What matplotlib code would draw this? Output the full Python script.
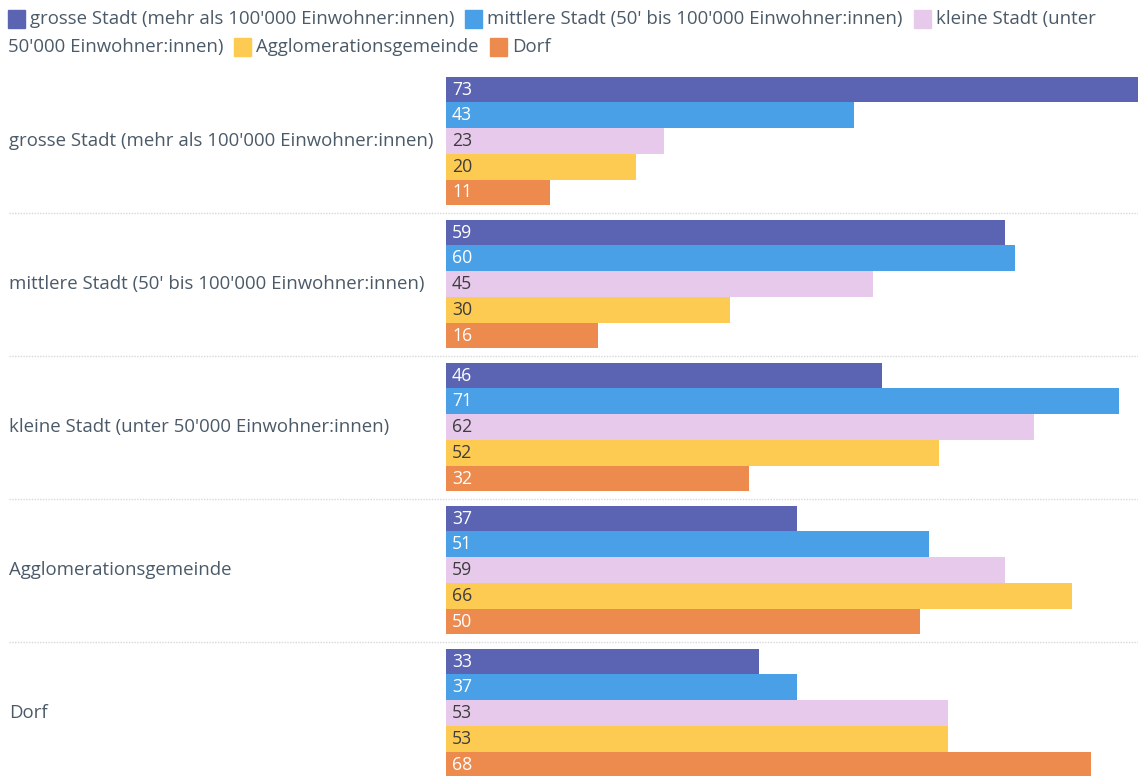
import matplotlib
matplotlib.use("Agg")
import matplotlib.pyplot as plt
from matplotlib.patches import Rectangle
from matplotlib.transforms import blended_transform_factory

categories = [
    "grosse Stadt (mehr als 100'000 Einwohner:innen)",
    "mittlere Stadt (50' bis 100'000 Einwohner:innen)",
    "kleine Stadt (unter 50'000 Einwohner:innen)",
    "Agglomerationsgemeinde",
    "Dorf",
]
series_names = categories
grosse = [73, 59, 46, 37, 33]
mittlere = [43, 60, 71, 51, 37]
kleine = [23, 45, 62, 59, 53]
agglo = [20, 30, 52, 66, 53]
dorf = [11, 16, 32, 50, 68]
values = [grosse, mittlere, kleine, agglo, dorf]

colors = ["#5a64b3", "#49a0e7", "#e6c9eb", "#fdcb52", "#ed8a4e"]
label_colors = ["white", "white", "#3d3d3d", "#3d3d3d", "white"]
text_color = "#4b5a68"

plt.rcParams['font.family'] = ['Open Sans', 'DejaVu Sans']
W, H = 1138, 776
fig = plt.figure(figsize=(W / 100, H / 100), dpi=100)

ax_left = 446 / W
ax_top = 69.5
ax = fig.add_axes([ax_left, 0, 1 - ax_left, (H - ax_top) / H])
ax.set_xlim(0, 73)
ax.set_ylim(4.44, -0.5)
ax.axis("off")

bh = 0.18
for j, vals in enumerate(values):
    for i, v in enumerate(vals):
        y = i - 0.45 + bh * j + bh / 2
        ax.barh(y, v, height=bh, color=colors[j], edgecolor="none")
        ax.annotate(str(v), (0, y), xytext=(6, 0), textcoords="offset pixels",
                    va="center", ha="left", fontsize=12.7, color=label_colors[j])

trans = blended_transform_factory(ax.transAxes, ax.transData)
x0 = -(446 - 9) / (W - 446)
for i, cat in enumerate(categories):
    ax.text(x0, i, cat, transform=trans, va="center", ha="left",
            fontsize=13.4, color=text_color)
for i in range(len(categories) - 1):
    ax.plot([x0, 1], [i + 0.5, i + 0.5], transform=trans, clip_on=False,
            color="#d8d8d8", lw=1, linestyle=(0, (1, 1)))

# legend, flowed over two lines
renderer = fig.canvas.get_renderer()
legend_parts = [
    [(0, "grosse Stadt (mehr als 100'000 Einwohner:innen)"),
     (1, "mittlere Stadt (50' bis 100'000 Einwohner:innen)"),
     (2, "kleine Stadt (unter")],
    [(None, "50'000 Einwohner:innen)"),
     (3, "Agglomerationsgemeinde"),
     (4, "Dorf")],
]
line_y = [19, 47]
sq = 17
for ln, parts in enumerate(legend_parts):
    x = 8
    yc = line_y[ln]
    for k, (ci, txt) in enumerate(parts):
        if ci is not None:
            fig.patches.append(Rectangle((x / W, 1 - (yc + sq / 2) / H), sq / W, sq / H,
                                         transform=fig.transFigure, color=colors[ci]))
            x += sq + 5
        t = fig.text(x / W, 1 - yc / H, txt, va="center", ha="left",
                     fontsize=13.4, color=text_color)
        w = t.get_window_extent(renderer).width
        x += w + 11

fig.savefig("out.png", dpi=100)
